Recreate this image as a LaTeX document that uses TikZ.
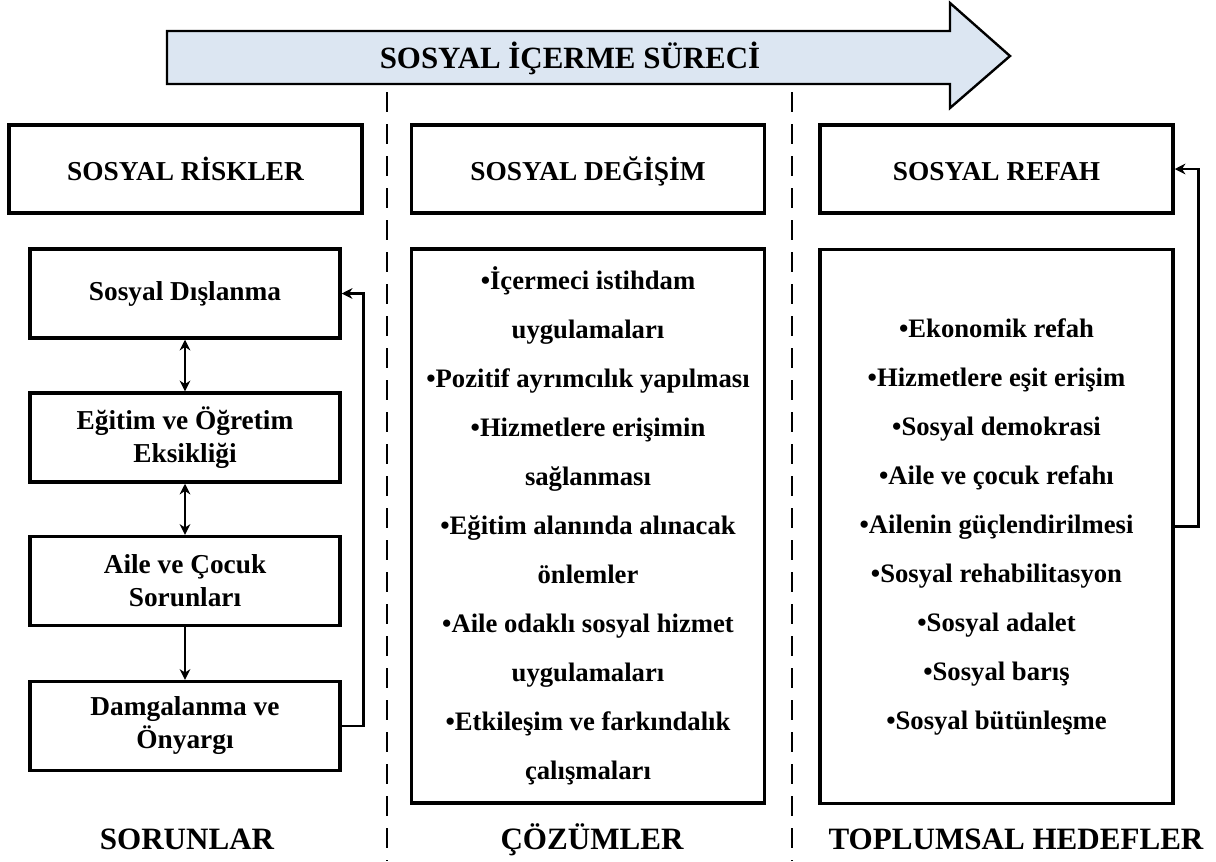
\documentclass[tikz,border=0pt]{standalone}
\usepackage{fontspec}
\setmainfont{Liberation Serif}
\usetikzlibrary{%
  calc,arrows.meta,shapes,%
  positioning}
\tikzset {>={Stealth[length=8pt,width=8pt]}}
\definecolor{okdolgu}{HTML}{DCE6F2}
\tikzset{
  kutu/.style={draw,line width=2.6pt,align=center,inner sep=2pt},
  baslik/.style={kutu,minimum width=264.75pt,minimum height=66pt,
    text height=17.2pt,text depth=0pt,
    font=\fontsize{20.5}{24}\selectfont\bfseries},
  risk/.style={kutu,minimum width=232.5pt,minimum height=66.75pt,
    font=\fontsize{20.5}{24.75}\selectfont\bfseries},
  liste/.style={kutu,minimum width=264.75pt,minimum height=415.5pt,
    font=\fontsize{20}{36.75}\selectfont\bfseries},
  etiket/.style={anchor=base,font=\fontsize{23.3}{27}\selectfont\bfseries},
  ayrac/.style={line width=1.6pt,dash pattern=on 15pt off 9pt},
  ok/.style={line width=1.9pt}
}

\begin{document}
\begin{tikzpicture}[x=0.75pt,y=-0.75pt]
\useasboundingbox (0,0) rectangle (1216,861);
\filldraw[fill=okdolgu,line width=1.8pt,line join=miter]
  (167,31) -- (950,31) -- (950,3) -- (1010,56) -- (950,108) -- (950,84) -- (167,84) -- cycle;
\node[anchor=base,font=\fontsize{23.2}{27}\selectfont\bfseries] (surec) at (570,68) {SOSYAL İÇERME SÜRECİ};

\draw[ayrac] (387,92) -- (387,861);
\draw[ayrac] (792,92) -- (792,861);

\node[baslik] (riskler) at (185.5,169) {SOSYAL RİSKLER};
\node[baslik] (degisim) at (588,169)   {SOSYAL DEĞİŞİM};
\node[baslik] (refah)   at (996.5,169) {SOSYAL REFAH};

\node[risk] (dislanma) at (185,293.5) {Sosyal Dışlanma};
\node[risk] (egitim)   at (185,437.5) {Eğitim ve Öğretim\\Eksikliği};
\node[risk] (aile)     at (185,581)   {Aile ve Çocuk\\Sorunları};
\node[risk] (damga)    at (185,726)   {Damgalanma ve\\Önyargı};

\draw[ok,<->] (dislanma) -- (egitim);
\draw[ok,<->] (egitim) -- (aile);
\draw[ok,->]  (aile) -- (damga);
\draw[ok,->]  (damga.east) -- ++(22,0) |- (dislanma.east);

\node[liste] (cozum) at (588,526) {•İçermeci istihdam\\uygulamaları\\•Pozitif ayrımcılık yapılması\\%
  •Hizmetlere erişimin\\sağlanması\\•Eğitim alanında alınacak\\önlemler\\%
  •Aile odaklı sosyal hizmet\\uygulamaları\\•Etkileşim ve farkındalık\\çalışmaları};
\node[liste] (hedef) at (996.5,526.5) {•Ekonomik refah\\•Hizmetlere eşit erişim\\•Sosyal demokrasi\\%
  •Aile ve çocuk refahı\\•Ailenin güçlendirilmesi\\•Sosyal rehabilitasyon\\%
  •Sosyal adalet\\•Sosyal barış\\•Sosyal bütünleşme};
\draw[ok,->] (hedef.east) -- ++(24,0) |- (refah.east);

\node[etiket] (sorunlar) at (187,849) {SORUNLAR};
\node[etiket] (cozumler) at (592,849) {ÇÖZÜMLER};
\node[etiket] (hedefler) at (1016,849) {TOPLUMSAL HEDEFLER};
\end{tikzpicture}
\end{document}
